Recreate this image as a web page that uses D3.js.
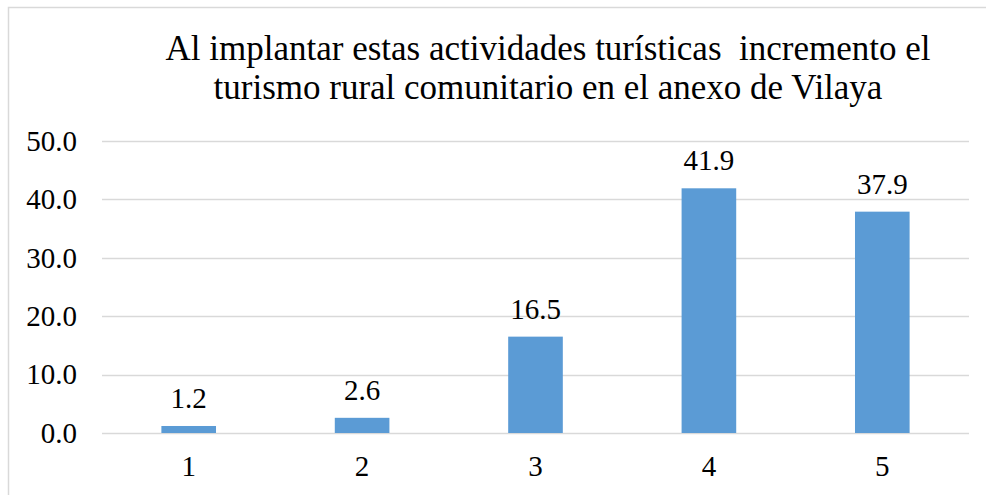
<!DOCTYPE html>
<html>
<head>
<meta charset="utf-8">
<style>
  body { margin: 0; background: #fff; }
</style>
</head>
<body>
<svg width="986" height="495"></svg>
<script src="https://d3js.org/d3.v7.min.js"></script>
<script>
    var categories = ["1", "2", "3", "4", "5"];
    var values = [1.2, 2.6, 16.5, 41.9, 37.9];
    var yTicks = [0, 10, 20, 30, 40, 50];
    var titleLines = [
        "Al implantar estas actividades turísticas  incremento el",
        "turismo rural comunitario en el anexo de Vilaya"
    ];

    var FONT = "Liberation Serif";

    var svg = d3.select("svg"),
        margin = { top: 141, right: 17, bottom: 62, left: 102 },
        width = +svg.attr("width") - margin.left - margin.right,
        height = +svg.attr("height") - margin.top - margin.bottom;

    // outer frame (runs off the right/bottom edge like the original)
    svg.append("rect")
        .attr("x", 8.5)
        .attr("y", 7.5)
        .attr("width", 1000)
        .attr("height", 600)
        .attr("fill", "none")
        .attr("stroke", "#d9d9d9")
        .attr("stroke-width", 1.5);

    svg.append("text")
        .attr("x", 548)
        .attr("y", 60)
        .attr("text-anchor", "middle")
        .attr("font-family", FONT)
        .style("font-size", "35px")
        .attr("fill", "#000")
        .selectAll("tspan")
        .data(titleLines)
        .enter().append("tspan")
        .attr("x", 548)
        .attr("dy", function (d, i) { return i ? 39 : 0; })
        .style("white-space", "pre")
        .text(function (d) { return d; });

    var g = svg.append("g").attr("transform", "translate(" + margin.left + "," + margin.top + ")");

    var x = d3.scaleBand()
        .domain(categories)
        .range([0, width])
        .paddingInner(0.685)
        .paddingOuter(0.3425);

    var y = d3.scaleLinear()
        .domain([0, 50])
        .range([height, 0]);

    // gridlines
    g.append("g")
        .selectAll("line")
        .data(yTicks)
        .enter().append("line")
        .attr("x1", 0)
        .attr("x2", width)
        .attr("y1", function (d) { return Math.round(y(d)) + 0.5; })
        .attr("y2", function (d) { return Math.round(y(d)) + 0.5; })
        .attr("stroke", "#d9d9d9")
        .attr("stroke-width", 1.5);

    var yAxis = g.append("g")
        .call(d3.axisLeft(y).tickValues(yTicks).tickFormat(d3.format(".1f")).tickSize(0).tickPadding(25));
    yAxis.select(".domain").remove();
    yAxis.attr("font-family", FONT);
    yAxis.selectAll("text")
        .style("font-size", "29px")
        .attr("fill", "#000");

    var xAxis = g.append("g")
        .attr("transform", "translate(0," + height + ")")
        .call(d3.axisBottom(x).tickSize(0).tickPadding(22));
    xAxis.select(".domain").remove();
    xAxis.attr("font-family", FONT);
    xAxis.selectAll("text")
        .style("font-size", "29px")
        .attr("fill", "#000");

    // bars
    g.selectAll(".bar")
        .data(values)
        .enter().append("rect")
        .attr("class", "bar")
        .attr("x", function (d, i) { return x(categories[i]); })
        .attr("y", function (d) { return y(d); })
        .attr("width", x.bandwidth())
        .attr("height", function (d) { return height - y(d); })
        .attr("fill", "#5b9bd5");

    // data labels
    g.selectAll(".label")
        .data(values)
        .enter().append("text")
        .attr("class", "label")
        .attr("x", function (d, i) { return x(categories[i]) + x.bandwidth() / 2; })
        .attr("y", function (d) { return y(d) - 18; })
        .attr("text-anchor", "middle")
        .attr("font-family", FONT)
        .style("font-size", "29px")
        .attr("fill", "#000")
        .text(function (d) { return d.toFixed(1); });
</script>
</body>
</html>
